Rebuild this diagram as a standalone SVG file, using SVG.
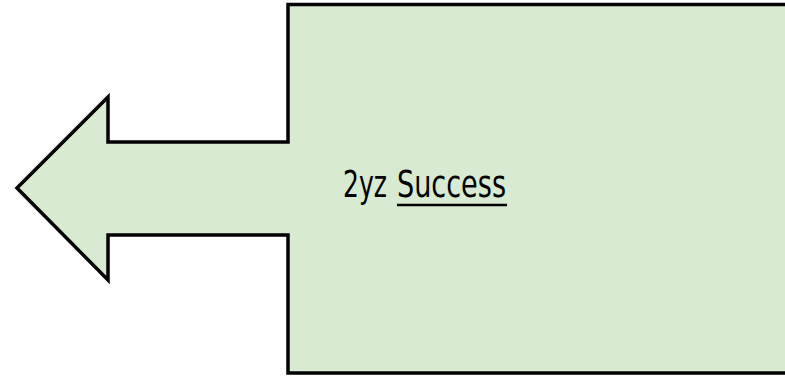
<svg xmlns="http://www.w3.org/2000/svg" width="785" height="377" viewBox="0 0 785 377">
<style>
.shape{fill:#d9ead3;stroke:#000;stroke-width:3.5;stroke-linejoin:miter}
.lbl{font-family:"DejaVu Sans Condensed","Liberation Sans",sans-serif;font-size:37px;fill:#000}
</style>
<g id="callout">
<path class="shape" d="M288,4.5 H792 V373 H288 V235 H108 V280 L17,188 L108,97 V142 H288 Z"/>
<text class="lbl" x="343" y="197" textLength="44" lengthAdjust="spacingAndGlyphs">2yz</text>
<text class="lbl" x="397" y="197" textLength="109" lengthAdjust="spacingAndGlyphs">Success</text>
<line x1="397" y1="205" x2="507" y2="205" stroke="#000" stroke-width="2.5"/>
</g>
</svg>
